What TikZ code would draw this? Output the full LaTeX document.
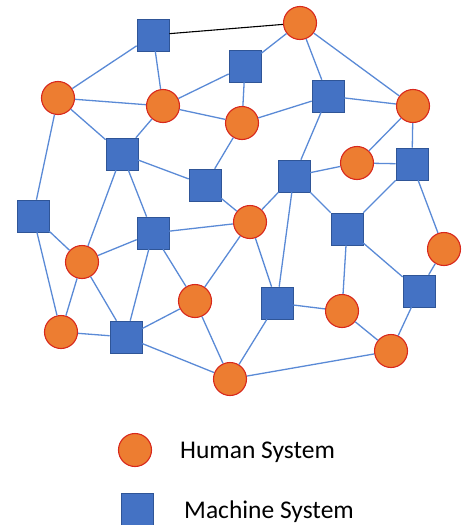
\documentclass[tikz,border=0pt]{standalone}
\usepackage{fontspec}
\setmainfont{Carlito}
\definecolor{hfill}{HTML}{ED7D31}
\definecolor{hdraw}{HTML}{D8281C}
\definecolor{mfill}{HTML}{4472C4}
\definecolor{mdraw}{HTML}{2F5597}
\definecolor{edge}{HTML}{5A8AD6}
\tikzset{
  human/.style={circle, fill=hfill, draw=hdraw, line width=1.1pt, minimum size=33pt, inner sep=0pt},
  machine/.style={rectangle, fill=mfill, draw=mdraw, line width=0.6pt, minimum size=32pt, inner sep=0pt},
  link/.style={draw=edge, line width=1.3pt},
  blink/.style={draw=black, line width=1.1pt},
  legendtext/.style={anchor=base west, inner sep=0pt, font=\fontsize{25.5}{30}\selectfont}
}
\begin{document}
\begin{tikzpicture}[x=1pt, y=-1pt]
\useasboundingbox (0,0) rectangle (461,525);
% machines
\node[machine] (S1) at (153,35) {};
\node[machine] (S2) at (245,66) {};
\node[machine] (S3) at (328,96) {};
\node[machine] (S4) at (122,154) {};
\node[machine] (S5) at (205,185) {};
\node[machine] (S6) at (294,176) {};
\node[machine] (S7) at (412,164) {};
\node[machine] (S8) at (33,216) {};
\node[machine] (S9) at (153,233) {};
\node[machine] (S10) at (347,229) {};
\node[machine] (S11) at (277,303) {};
\node[machine] (S12) at (126,337) {};
\node[machine] (S13) at (419,291) {};
% humans
\node[human] (C1) at (300,23) {};
\node[human] (C2) at (58,98) {};
\node[human] (C3) at (163,106) {};
\node[human] (C4) at (242,123) {};
\node[human] (C5) at (413,106) {};
\node[human] (C6) at (357,163) {};
\node[human] (C7) at (250,222) {};
\node[human] (C8) at (82,262) {};
\node[human] (C9) at (195,301) {};
\node[human] (C10) at (444,249) {};
\node[human] (C11) at (342,311) {};
\node[human] (C12) at (61,332) {};
\node[human] (C13) at (391,351) {};
\node[human] (C14) at (230,379) {};
% edges
\draw[blink] (S1) -- (C1);
\foreach \a/\b in {S1/C2, S1/C3, C2/C3, C2/S4, C2/S8, C3/S4, C3/S2, C3/C4,
  S4/S5, S4/C8, S4/S9, C4/S5, S5/C7,
  C1/S2, C1/S3, C1/C5, S2/C4, C4/S3, S3/C5, S3/S6, C5/C6, C5/S7, C6/S7, C6/S6,
  S6/C7, S6/S10, S6/S11, S7/S10, S7/C10,
  S8/C8, S8/C12, C8/S9, S9/C7, C8/C12, C8/S12, S9/S12, S9/C9, C12/S12, S12/C9,
  S12/C14, C9/C7, C9/C14, C7/S11, S10/S13, S10/C11, C10/S13, S11/C11, S11/C14,
  C11/C13, S13/C13, C13/C14}
  \draw[link] (\a) -- (\b);
% legend
\node[human] (LH) at (135,450) {};
\node[machine] (LM) at (137,509) {};
\node[legendtext] (LHT) at (180,458) {Human System};
\node[legendtext] (LMT) at (184,518) {Machine System};
\end{tikzpicture}
\end{document}
